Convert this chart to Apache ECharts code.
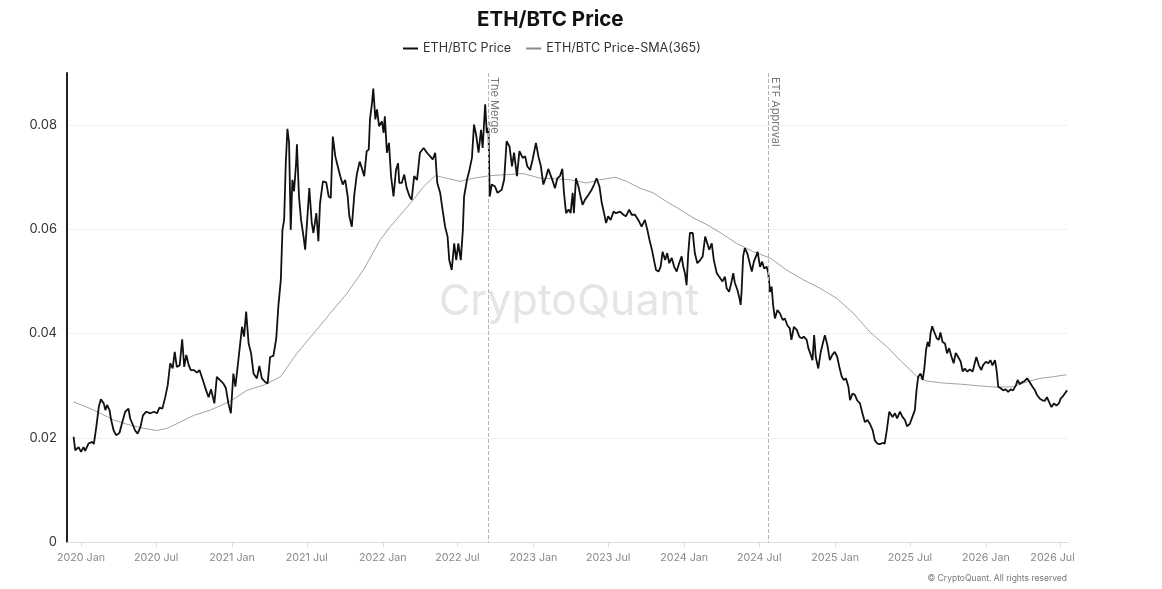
<!DOCTYPE html>
<html>
<head>
<meta charset="utf-8">
<script src="https://cdn.jsdelivr.net/npm/echarts@6/dist/echarts.min.js"></script>
<style>
html,body{margin:0;padding:0;background:#fff;}
#c{width:1162px;height:589px;}
</style>
</head>
<body>
<div id="c"></div>
<script>
const priceDates = [
'2019-12-14','2019-12-18','2019-12-26','2020-01-01','2020-01-07','2020-01-11','2020-01-19','2020-01-28','2020-02-01','2020-02-07',
'2020-02-13','2020-02-18','2020-02-25','2020-02-29','2020-03-04','2020-03-10','2020-03-14','2020-03-20','2020-03-26','2020-04-03',
'2020-04-09','2020-04-17','2020-04-25','2020-04-29','2020-05-06','2020-05-11','2020-05-17','2020-05-24','2020-05-30','2020-06-07',
'2020-06-17','2020-06-26','2020-07-03','2020-07-09','2020-07-16','2020-07-23','2020-07-29','2020-08-04','2020-08-10','2020-08-15',
'2020-08-20','2020-08-27','2020-09-02','2020-09-07','2020-09-12','2020-09-18','2020-09-23','2020-09-30','2020-10-08','2020-10-14',
'2020-10-22','2020-10-30','2020-11-05','2020-11-11','2020-11-19','2020-11-25','2020-12-02','2020-12-11','2020-12-17','2020-12-23',
'2020-12-29','2021-01-04','2021-01-09','2021-01-17','2021-01-25','2021-01-30','2021-02-04','2021-02-10','2021-02-16','2021-02-22',
'2021-03-02','2021-03-08','2021-03-14','2021-03-22','2021-03-28','2021-04-03','2021-04-11','2021-04-18','2021-04-23','2021-04-29',
'2021-05-03','2021-05-07','2021-05-11','2021-05-15','2021-05-19','2021-05-23','2021-05-27','2021-05-31','2021-06-05','2021-06-07',
'2021-06-12','2021-06-17','2021-06-23','2021-06-27','2021-07-03','2021-07-07','2021-07-13','2021-07-17','2021-07-24','2021-07-29',
'2021-08-02','2021-08-09','2021-08-17','2021-08-23','2021-08-28','2021-09-02','2021-09-08','2021-09-13','2021-09-20','2021-09-26',
'2021-10-02','2021-10-08','2021-10-12','2021-10-18','2021-10-24','2021-10-30','2021-11-06','2021-11-11','2021-11-17','2021-11-23',
'2021-11-28','2021-12-01','2021-12-06','2021-12-09','2021-12-14','2021-12-18','2021-12-23','2021-12-30','2022-01-03','2022-01-06',
'2022-01-11','2022-01-16','2022-01-21','2022-01-27','2022-02-02','2022-02-07','2022-02-10','2022-02-16','2022-02-22','2022-02-28',
'2022-03-07','2022-03-12','2022-03-18','2022-03-25','2022-04-01','2022-04-10','2022-04-18','2022-04-26','2022-05-02','2022-05-08',
'2022-05-13','2022-05-20','2022-05-27','2022-06-01','2022-06-07','2022-06-11','2022-06-17','2022-06-23','2022-06-28','2022-07-03',
'2022-07-09','2022-07-14','2022-07-17','2022-07-24','2022-07-30','2022-08-05','2022-08-10','2022-08-15','2022-08-21','2022-08-27',
'2022-08-31','2022-09-06','2022-09-10','2022-09-14','2022-09-17','2022-09-22','2022-09-30','2022-10-06','2022-10-16','2022-10-22',
'2022-10-28','2022-11-04','2022-11-10','2022-11-15','2022-11-22','2022-11-28','2022-12-06','2022-12-12','2022-12-17','2022-12-24',
'2022-12-30','2023-01-07','2023-01-13','2023-01-19','2023-01-25','2023-02-01','2023-02-06','2023-02-10','2023-02-17','2023-02-22',
'2023-02-28','2023-03-06','2023-03-12','2023-03-16','2023-03-21','2023-03-27','2023-04-01','2023-04-06','2023-04-09','2023-04-14',
'2023-04-20','2023-04-26','2023-04-30','2023-05-06','2023-05-14','2023-05-22','2023-05-28','2023-06-03','2023-06-10','2023-06-15',
'2023-06-21','2023-06-26','2023-07-01','2023-07-07','2023-07-14','2023-07-20','2023-07-30','2023-08-07','2023-08-13','2023-08-21',
'2023-08-27','2023-09-04','2023-09-12','2023-09-20','2023-09-28','2023-10-04','2023-10-09','2023-10-15','2023-10-20','2023-10-25',
'2023-10-31','2023-11-05','2023-11-10','2023-11-16','2023-11-21','2023-11-26','2023-12-02','2023-12-08','2023-12-14','2023-12-20',
'2023-12-26','2023-12-30','2024-01-03','2024-01-07','2024-01-11','2024-01-15','2024-01-22','2024-01-27','2024-02-02','2024-02-09',
'2024-02-15','2024-02-21','2024-02-25','2024-03-02','2024-03-08','2024-03-13','2024-03-20','2024-03-26','2024-04-03','2024-04-09',
'2024-04-13','2024-04-19','2024-04-25','2024-04-29','2024-05-03','2024-05-09','2024-05-14','2024-05-17','2024-05-19','2024-05-23',
'2024-05-27','2024-06-02','2024-06-07','2024-06-13','2024-06-18','2024-06-23','2024-06-27','2024-07-03','2024-07-08','2024-07-13',
'2024-07-19','2024-07-23','2024-07-27','2024-07-31','2024-08-04','2024-08-08','2024-08-14','2024-08-20','2024-08-27','2024-09-01',
'2024-09-07','2024-09-13','2024-09-17','2024-09-23','2024-09-30','2024-10-06','2024-10-12','2024-10-17','2024-10-24','2024-10-28',
'2024-11-03','2024-11-07','2024-11-11','2024-11-15','2024-11-21','2024-11-27','2024-12-02','2024-12-07','2024-12-13','2024-12-19',
'2024-12-25','2024-12-31','2025-01-06','2025-01-11','2025-01-17','2025-01-22','2025-01-27','2025-02-02','2025-02-06','2025-02-12',
'2025-02-18','2025-02-23','2025-03-02','2025-03-08','2025-03-14','2025-03-20','2025-03-26','2025-04-02','2025-04-07','2025-04-13',
'2025-04-19','2025-04-26','2025-05-01','2025-05-06','2025-05-12','2025-05-20','2025-05-26','2025-05-31','2025-06-07','2025-06-13',
'2025-06-19','2025-06-24','2025-07-01','2025-07-07','2025-07-13','2025-07-17','2025-07-21','2025-07-27','2025-08-01','2025-08-05',
'2025-08-09','2025-08-13','2025-08-17','2025-08-20','2025-08-24','2025-08-29','2025-09-04','2025-09-09','2025-09-13','2025-09-18',
'2025-09-24','2025-09-29','2025-10-04','2025-10-10','2025-10-15','2025-10-20','2025-10-26','2025-11-01','2025-11-06','2025-11-11',
'2025-11-17','2025-11-23','2025-11-30','2025-12-05','2025-12-09','2025-12-15','2025-12-21','2025-12-25','2026-01-01','2026-01-07',
'2026-01-12','2026-01-17','2026-01-23','2026-01-27','2026-01-31','2026-02-06','2026-02-12','2026-02-18','2026-02-24','2026-03-02',
'2026-03-08','2026-03-15','2026-03-19','2026-03-24','2026-03-31','2026-04-05','2026-04-11','2026-04-17','2026-04-24','2026-04-30',
'2026-05-05','2026-05-12','2026-05-18','2026-05-24','2026-05-29','2026-06-03','2026-06-09','2026-06-15','2026-06-21','2026-06-27',
'2026-07-01','2026-07-07','2026-07-14','2026-07-17'
];
const priceValues = [
0.0202,0.0176,0.0182,0.0173,0.0182,0.0175,0.0189,0.0192,0.0188,0.0221,
0.0259,0.0274,0.0266,0.0253,0.0263,0.0253,0.0234,0.0214,0.0205,0.0209,
0.0227,0.0250,0.0256,0.0237,0.0224,0.0214,0.0208,0.0221,0.0243,0.0250,
0.0247,0.0250,0.0247,0.0258,0.0256,0.0278,0.0301,0.0343,0.0333,0.0365,
0.0336,0.0339,0.0389,0.0336,0.0359,0.0339,0.0330,0.0330,0.0325,0.0330,
0.0311,0.0291,0.0278,0.0293,0.0266,0.0317,0.0311,0.0304,0.0295,0.0266,
0.0247,0.0323,0.0298,0.0355,0.0413,0.0394,0.0442,0.0381,0.0362,0.0323,
0.0314,0.0338,0.0314,0.0307,0.0304,0.0355,0.0357,0.0391,0.0452,0.0503,
0.0599,0.0618,0.0727,0.0793,0.0766,0.0599,0.0695,0.0673,0.0727,0.0763,
0.0663,0.0618,0.0586,0.0561,0.0631,0.0679,0.0612,0.0593,0.0631,0.0577,
0.0650,0.0692,0.0690,0.0663,0.0660,0.0778,0.0740,0.0724,0.0702,0.0686,
0.0695,0.0663,0.0625,0.0605,0.0666,0.0705,0.0730,0.0718,0.0702,0.0750,
0.0753,0.0811,0.0843,0.0870,0.0811,0.0830,0.0798,0.0807,0.0785,0.0817,
0.0747,0.0766,0.0702,0.0663,0.0714,0.0727,0.0689,0.0689,0.0705,0.0679,
0.0663,0.0657,0.0702,0.0695,0.0747,0.0756,0.0747,0.0740,0.0734,0.0747,
0.0689,0.0670,0.0631,0.0605,0.0586,0.0541,0.0522,0.0573,0.0541,0.0573,
0.0541,0.0599,0.0663,0.0695,0.0714,0.0737,0.0801,0.0782,0.0747,0.0791,
0.0756,0.0840,0.0785,0.0795,0.0663,0.0686,0.0682,0.0670,0.0676,0.0695,
0.0769,0.0759,0.0721,0.0747,0.0702,0.0750,0.0737,0.0740,0.0721,0.0714,
0.0734,0.0766,0.0740,0.0721,0.0686,0.0702,0.0716,0.0714,0.0692,0.0679,
0.0698,0.0702,0.0716,0.0670,0.0631,0.0638,0.0631,0.0670,0.0631,0.0698,
0.0682,0.0660,0.0647,0.0657,0.0666,0.0676,0.0686,0.0698,0.0682,0.0653,
0.0631,0.0612,0.0625,0.0618,0.0634,0.0631,0.0634,0.0628,0.0625,0.0638,
0.0628,0.0628,0.0618,0.0605,0.0618,0.0599,0.0580,0.0561,0.0541,0.0522,
0.0519,0.0528,0.0557,0.0541,0.0554,0.0535,0.0545,0.0528,0.0519,0.0535,
0.0548,0.0528,0.0516,0.0493,0.0554,0.0593,0.0593,0.0554,0.0535,0.0541,
0.0548,0.0586,0.0589,0.0561,0.0573,0.0541,0.0516,0.0509,0.0500,0.0509,
0.0487,0.0480,0.0500,0.0516,0.0497,0.0484,0.0468,0.0455,0.0477,0.0548,
0.0564,0.0554,0.0538,0.0519,0.0538,0.0548,0.0557,0.0528,0.0538,0.0525,
0.0528,0.0516,0.0480,0.0490,0.0452,0.0429,0.0445,0.0439,0.0426,0.0429,
0.0416,0.0410,0.0388,0.0413,0.0407,0.0394,0.0391,0.0394,0.0388,0.0372,
0.0359,0.0349,0.0397,0.0355,0.0333,0.0365,0.0381,0.0397,0.0378,0.0349,
0.0359,0.0365,0.0355,0.0336,0.0317,0.0311,0.0314,0.0298,0.0272,0.0285,
0.0282,0.0272,0.0266,0.0247,0.0230,0.0234,0.0227,0.0214,0.0195,0.0189,
0.0188,0.0190,0.0189,0.0214,0.0250,0.0240,0.0247,0.0237,0.0250,0.0240,
0.0234,0.0222,0.0227,0.0240,0.0253,0.0291,0.0317,0.0323,0.0311,0.0333,
0.0368,0.0384,0.0375,0.0400,0.0414,0.0403,0.0391,0.0388,0.0402,0.0384,
0.0381,0.0362,0.0372,0.0355,0.0343,0.0363,0.0355,0.0346,0.0327,0.0333,
0.0327,0.0331,0.0327,0.0343,0.0355,0.0339,0.0330,0.0339,0.0346,0.0343,
0.0349,0.0339,0.0349,0.0330,0.0298,0.0295,0.0291,0.0293,0.0288,0.0293,
0.0291,0.0301,0.0311,0.0303,0.0307,0.0309,0.0314,0.0307,0.0298,0.0291,
0.0282,0.0275,0.0272,0.0271,0.0278,0.0269,0.0259,0.0266,0.0262,0.0266,
0.0275,0.0280,0.0288,0.0291
];
const smaDates = [
'2019-12-13','2020-01-15','2020-02-17','2020-03-20','2020-04-21','2020-06-01','2020-07-03','2020-07-27','2020-08-28','2020-09-30',
'2020-11-09','2020-12-27','2021-02-06','2021-03-18','2021-04-28','2021-06-07','2021-07-17','2021-08-27','2021-10-06','2021-11-15',
'2021-12-26','2022-01-19','2022-02-12','2022-03-12','2022-04-10','2022-05-08','2022-06-05','2022-07-07','2022-08-09','2022-09-18',
'2022-10-28','2022-12-08','2023-01-17','2023-02-26','2023-03-31','2023-05-10','2023-06-11','2023-07-18','2023-08-15','2023-09-16',
'2023-10-18','2023-11-20','2023-12-22','2024-01-23','2024-02-25','2024-03-28','2024-05-07','2024-06-17','2024-07-27','2024-09-05',
'2024-10-16','2024-11-25','2025-01-04','2025-02-14','2025-03-26','2025-05-06','2025-06-07','2025-07-19','2025-08-10','2025-09-20',
'2025-10-30','2025-12-10','2026-01-27','2026-03-08','2026-04-17','2026-05-12','2026-06-13','2026-07-15'
];
const smaValues = [
0.0269,0.0259,0.0247,0.0234,0.0226,0.0218,0.0214,0.0218,0.0230,0.0243,
0.0253,0.0270,0.0291,0.0301,0.0317,0.0362,0.0400,0.0439,0.0477,0.0522,
0.0580,0.0605,0.0627,0.0653,0.0682,0.0703,0.0698,0.0692,0.0698,0.0703,
0.0705,0.0707,0.0698,0.0697,0.0695,0.0689,0.0695,0.0700,0.0692,0.0679,
0.0670,0.0653,0.0638,0.0622,0.0609,0.0594,0.0573,0.0557,0.0545,0.0522,
0.0503,0.0487,0.0468,0.0439,0.0403,0.0375,0.0349,0.0317,0.0309,0.0305,
0.0303,0.0300,0.0297,0.0298,0.0309,0.0314,0.0317,0.0321
];
const eventDates = ['2022-09-13', '2024-07-23'];
const eventNames = ['The Merge', 'ETF Approval'];
const monthNames = ['Jan','Feb','Mar','Apr','May','Jun','Jul','Aug','Sep','Oct','Nov','Dec'];
const seriesNames = ['ETH/BTC Price', 'ETH/BTC Price-SMA(365)'];

const ts = s => new Date(s + 'T00:00:00').getTime();
const DAY = 24 * 3600 * 1000;
const FONT = 'Inter, "Noto Sans", "DejaVu Sans", sans-serif';
const AXIS_MAX = ts('2026-07-19');

const priceData = priceDates.map((d, i) => [d, priceValues[i]]);
const smaData = smaDates.map((d, i) => [d, smaValues[i]]);

const markLineData = eventDates.map((d, i) => [
  { name: eventNames[i], xAxis: ts(d), yAxis: 0.09 },
  { xAxis: ts(d), yAxis: 0 }
]);

const chart = echarts.init(document.getElementById('c'), null, { renderer: 'canvas' });
chart.setOption({
  animation: false,
  backgroundColor: '#ffffff',
  textStyle: { fontFamily: FONT },
  title: {
    text: 'ETH/BTC Price',
    left: 472,
    top: 4,
    textStyle: { fontSize: 20.5, fontWeight: 'bold', color: '#111', fontFamily: FONT }
  },
  legend: {
    top: 37,
    left: 397,
    itemWidth: 15,
    itemHeight: 10,
    itemGap: 14,
    itemStyle: { opacity: 0 },
    textStyle: { fontSize: 12.6, color: '#333', fontFamily: FONT },
    data: seriesNames
  },
  grid: { left: 67, right: 94, top: 73, bottom: 47, containLabel: false, outerBoundsMode: 'none' },
  xAxis: {
    type: 'time',
    min: ts('2019-11-28'),
    max: AXIS_MAX,
    splitNumber: 14,
    minInterval: 181.5 * DAY,
    maxInterval: 182 * DAY,
    axisLine: { show: true, lineStyle: { color: '#dddddd', width: 1 } },
    axisTick: { show: true, length: 5, lineStyle: { color: '#dddddd' } },
    splitLine: { show: false },
    axisLabel: {
      color: '#888',
      fontSize: 10.7,
      margin: 10,
      fontFamily: FONT,
      formatter: function (v) {
        const d = new Date(v);
        const txt = d.getFullYear() + ' ' + monthNames[d.getMonth()];
        return (AXIS_MAX - v < 40 * DAY) ? '{last|' + txt + '}' : txt;
      },
      rich: {
        last: { color: '#888', fontSize: 10.7, fontFamily: FONT, padding: [0, 16, 0, 0] }
      }
    }
  },
  yAxis: {
    type: 'value',
    min: 0,
    max: 0.09,
    interval: 0.02,
    axisLine: { show: true, lineStyle: { color: '#222', width: 2 } },
    axisTick: { show: false },
    splitLine: {
      show: true,
      lineStyle: { color: ['#f0f0f0', '#f0f0f0', '#f0f0f0', '#f0f0f0', '#f0f0f0', 'rgba(0,0,0,0)'], width: 1 }
    },
    axisLabel: { color: '#333', fontSize: 13, margin: 10, showMaxLabel: false, fontFamily: FONT }
  },
  graphic: [
    {
      type: 'text',
      x: 569, y: 302, z: -10, silent: true,
      style: { text: 'CryptoQuant', fontSize: 43, fill: '#e5e5e9', fontFamily: FONT, align: 'center', verticalAlign: 'middle' }
    },
    {
      type: 'text',
      x: 1067, y: 578, silent: true,
      style: { text: '\u00A9 CryptoQuant. All rights reserved', fontSize: 8.5, fill: '#777', fontFamily: FONT, align: 'right', verticalAlign: 'middle' }
    }
  ],
  series: [
    {
      name: seriesNames[0],
      type: 'line',
      data: priceData,
      symbol: 'none',
      showSymbol: false,
      z: 3,
      lineStyle: { color: '#111', width: 1.8 },
      itemStyle: { color: '#111' },
      markLine: {
        silent: true,
        symbol: ['none', 'none'],
        lineStyle: { type: 'dashed', color: '#b5b5b5', width: 1 },
        label: {
          show: true,
          position: 'insideStartTop',
          formatter: '{b}',
          color: '#777',
          fontSize: 11,
          distance: [4, 1],
          fontFamily: FONT
        },
        emphasis: { disabled: true },
        data: markLineData
      }
    },
    {
      name: seriesNames[1],
      type: 'line',
      data: smaData,
      symbol: 'none',
      showSymbol: false,
      z: 2,
      lineStyle: { color: '#8a8a8a', width: 0.8 },
      itemStyle: { color: '#8a8a8a' }
    }
  ]
});
</script>
</body>
</html>
